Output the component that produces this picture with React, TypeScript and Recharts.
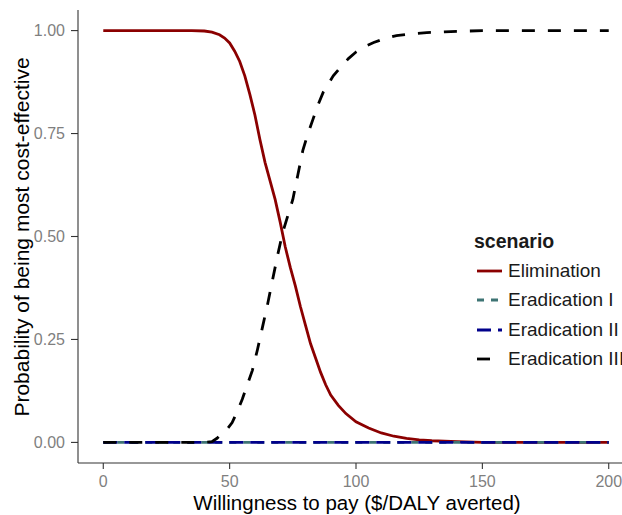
import React from "react";
import { LineChart, Line, XAxis, YAxis, Label } from "recharts";

const FONT = "'Liberation Sans', Arial, Helvetica, sans-serif";

// Willingness to pay ($/DALY averted) and probabilities per scenario
const wtpElimination = [0, 35, 40, 43, 46, 48, 50, 52, 54, 56, 58, 60, 62, 64, 66, 68, 70, 72, 74, 76, 78, 80, 82, 84, 86, 88, 90, 93, 96, 100, 105, 110, 115, 120, 125, 130, 140, 150, 200];
const probElimination = [1, 1, 0.999, 0.996, 0.99, 0.982, 0.97, 0.95, 0.925, 0.89, 0.845, 0.795, 0.735, 0.68, 0.635, 0.59, 0.535, 0.475, 0.425, 0.38, 0.33, 0.285, 0.24, 0.205, 0.17, 0.14, 0.115, 0.09, 0.07, 0.05, 0.035, 0.023, 0.015, 0.01, 0.006, 0.004, 0.002, 0, 0];

const wtpEradicationI = [0, 200];
const probEradicationI = [0, 0];

const wtpEradicationII = [0, 200];
const probEradicationII = [0, 0];

const wtpEradicationIII = [0, 40, 43, 45, 47, 49, 51, 53, 55, 57, 59, 61, 63, 65, 67, 69, 71, 73, 75, 77, 79, 81, 83, 85, 87, 89, 91, 94, 97, 100, 103, 107, 111, 116, 122, 128, 135, 145, 150, 200];
const probEradicationIII = [0, 0, 0.002, 0.01, 0.022, 0.032, 0.048, 0.075, 0.105, 0.14, 0.175, 0.225, 0.28, 0.335, 0.395, 0.455, 0.51, 0.55, 0.59, 0.65, 0.71, 0.75, 0.785, 0.82, 0.85, 0.87, 0.89, 0.912, 0.932, 0.948, 0.96, 0.971, 0.98, 0.988, 0.992, 0.995, 0.997, 0.999, 1, 1];

const xTicks = [0, 50, 100, 150, 200];
const yTicks = [0, 0.25, 0.5, 0.75, 1];

const toPoints = (xs: number[], ys: number[]) => xs.map((x, i) => ({ x, y: ys[i] }));

const series = [
  { name: "Elimination", data: toPoints(wtpElimination, probElimination), color: "#8B0000", dash: undefined as string | undefined },
  { name: "Eradication I", data: toPoints(wtpEradicationI, probEradicationI), color: "#3E7474", dash: "7 7" },
  { name: "Eradication II", data: toPoints(wtpEradicationII, probEradicationII), color: "#00008B", dash: "14 7" },
  { name: "Eradication III", data: toPoints(wtpEradicationIII, probEradicationIII), color: "#000000", dash: "13 13" },
];

const LegendBox = () => (
  <div
    style={{
      position: "absolute",
      left: 474,
      top: 228,
      fontFamily: FONT,
      color: "#1a1a1a",
      whiteSpace: "nowrap",
    }}
  >
    <div style={{ fontWeight: "bold", fontSize: 19.5, height: 28, lineHeight: "26px" }}>scenario</div>
    {series.map((s) => (
      <div key={s.name} style={{ display: "flex", alignItems: "center", height: 29.5 }}>
        <svg width={32} height={20} style={{ display: "block" }}>
          <line x1={3} x2={28} y1={10} y2={10} stroke={s.color} strokeWidth={2.8} strokeDasharray={s.dash} />
        </svg>
        <span style={{ fontSize: 19, marginLeft: 2 }}>{s.name}</span>
      </div>
    ))}
  </div>
);

export default function App() {
  return (
    <div
      style={{
        position: "absolute",
        left: 0,
        top: 0,
        width: 622,
        height: 515,
        overflow: "hidden",
        background: "#fff",
      }}
    >
      <LineChart width={640} height={515} margin={{ top: 10, right: 6, bottom: 22, left: 0 }}>
        <XAxis
          dataKey="x"
          type="number"
          domain={[-10, 210]}
          ticks={xTicks}
          allowDataOverflow
          stroke="#333"
          strokeWidth={1.1}
          tickSize={6}
          tickMargin={7}
          height={30}
          tick={{ fill: "#7f7f7f", fontSize: 16, fontFamily: FONT }}
          tickLine={{ stroke: "#333" }}
        >
          <Label
            content={() => (
              <text x={357} y={510} textAnchor="middle" fontSize={20.5} fontFamily={FONT} fill="#000">
                Willingness to pay ($/DALY averted)
              </text>
            )}
          />
        </XAxis>
        <YAxis
          dataKey="y"
          type="number"
          domain={[-0.05, 1.05]}
          ticks={yTicks}
          allowDataOverflow
          width={78}
          stroke="#333"
          strokeWidth={1.1}
          tickSize={7}
          tickMargin={6}
          tickFormatter={(v: number) => v.toFixed(2)}
          tick={{ fill: "#7f7f7f", fontSize: 16, fontFamily: FONT }}
          tickLine={{ stroke: "#333" }}
        >
          <Label
            content={() => (
              <text
                x={21}
                y={237}
                transform="rotate(-90 21 237)"
                textAnchor="middle"
                dominantBaseline="central"
                fontSize={21}
                fontFamily={FONT}
                fill="#000"
              >
                Probability of being most cost-effective
              </text>
            )}
          />
        </YAxis>
        {series.map((s) => (
          <Line
            key={s.name}
            data={s.data}
            dataKey="y"
            name={s.name}
            type="linear"
            stroke={s.color}
            strokeWidth={2.8}
            strokeDasharray={s.dash}
            dot={false}
            activeDot={false}
            isAnimationActive={false}
          />
        ))}
      </LineChart>
      <LegendBox />
    </div>
  );
}
